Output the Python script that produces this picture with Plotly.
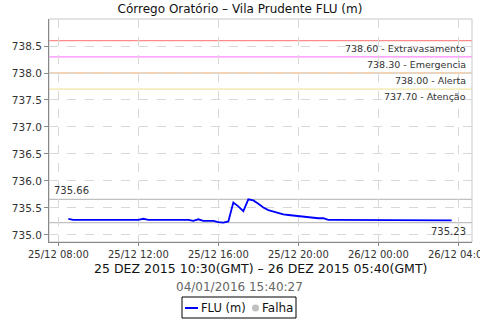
import plotly.graph_objects as go
import pandas as pd

# ---- data ----
times = list(pd.date_range("2015-12-25 08:30", "2015-12-26 03:30", freq="15min")) + [pd.Timestamp("2015-12-26 03:40")]
level = [
    735.30, 735.28,                          # 08:30 08:45
    735.28, 735.28, 735.28, 735.28,          # 09
    735.28, 735.28, 735.28, 735.28,          # 10
    735.28, 735.28, 735.28, 735.28,          # 11
    735.28, 735.30, 735.28, 735.28,          # 12
    735.28, 735.28, 735.28, 735.28,          # 13
    735.28, 735.28, 735.28, 735.26,          # 14
    735.29, 735.26, 735.26, 735.26,          # 15
    735.24, 735.23, 735.25, 735.60,          # 16
    735.53, 735.44, 735.66, 735.64,          # 17
    735.58, 735.51, 735.46, 735.43,          # 18
    735.40, 735.38, 735.37, 735.36,          # 19
    735.35, 735.33, 735.33, 735.31,          # 20
    735.31, 735.31, 735.28, 735.28,          # 21
    735.28, 735.28, 735.28, 735.28,          # 22
    735.28, 735.28, 735.28, 735.28,          # 23
    735.28, 735.28, 735.27, 735.28,          # 00
    735.27, 735.27, 735.27, 735.27,          # 01
    735.27, 735.27, 735.27, 735.27,          # 02
    735.27, 735.27, 735.27,                  # 03:00 03:15 03:30
    735.27,                                  # 03:40
]
thr_values = [738.60, 738.30, 738.00, 737.70]
thr_names = ["Extravasamento", "Emergencia", "Alerta", "Atenção"]
thr_colors = ["#ff8c8c", "#ff88ff", "#e8a868", "#f2e6a4"]
max_val = 735.66
min_val = 735.23
title = "Córrego Oratório – Vila Prudente FLU (m)"
subtitle = "25 DEZ 2015 10:30(GMT) – 26 DEZ 2015 05:40(GMT)"
stamp = "04/01/2016 15:40:27"
y_ticks = [735.0, 735.5, 736.0, 736.5, 737.0, 737.5, 738.0, 738.5]
series_name = "FLU (m)"
fail_name = "Falha"

FONT = "DejaVu Sans"
L, R, T, B, W, H = 49, 8, 19, 78, 480, 320
PW, PH = W - L - R, H - T - B


def px(x):
    return (x - L) / PW


def py(y):
    return (H - B - y) / PH


fig = go.Figure()
fig.add_trace(go.Scatter(x=times, y=level, mode="lines", name=series_name,
                         line=dict(color="#0000ff", width=1.8), showlegend=False))

for v, n, c in zip(thr_values, thr_names, thr_colors):
    fig.add_hline(y=v, line=dict(color=c, width=1.2), layer="below")
    fig.add_annotation(x=0.991, xref="paper", y=v, yref="y", xanchor="right", yanchor="top",
                       text=f"{v:.2f} - {n}", showarrow=False, yshift=0,
                       font=dict(family=FONT, size=9.5, color="#333"))

for v in [max_val, min_val]:
    fig.add_hline(y=v, line=dict(color="#c0c0c0", width=1.2), layer="below")
fig.add_annotation(x=0.007, xref="paper", y=max_val, yref="y", xanchor="left", yanchor="bottom",
                   text=f"{max_val:.2f}", showarrow=False, yshift=1,
                   font=dict(family=FONT, size=10, color="#333"))
fig.add_annotation(x=0.991, xref="paper", y=min_val, yref="y", xanchor="right", yanchor="top",
                   text=f"{min_val:.2f}", showarrow=False, yshift=-1,
                   font=dict(family=FONT, size=10, color="#333"))

fig.add_annotation(x=px(260), xref="paper", y=py(268), yref="paper", yanchor="middle",
                   text=subtitle, showarrow=False, font=dict(family=FONT, size=12.5, color="#111"))
fig.add_annotation(x=px(239), xref="paper", y=py(287), yref="paper", yanchor="middle",
                   text=stamp, showarrow=False, font=dict(family=FONT, size=12, color="#666"))

# plot frame
fig.add_shape(type="rect", xref="paper", yref="paper", x0=0, x1=1, y0=0, y1=1,
              line=dict(color="#c8c8c8", width=1), layer="below")

# legend box
fig.add_shape(type="rect", xref="paper", yref="paper", x0=px(182), x1=px(296), y0=py(318), y1=py(297),
              line=dict(color="#000", width=1), fillcolor="white")
fig.add_shape(type="line", xref="paper", yref="paper", x0=px(185), x1=px(198), y0=py(308), y1=py(308),
              line=dict(color="#0000ff", width=2))
fig.add_annotation(x=px(199), xref="paper", y=py(308), yref="paper", xanchor="left", yanchor="middle",
                   text=series_name, showarrow=False, font=dict(family=FONT, size=11.5, color="#111"))
fig.add_shape(type="circle", xref="paper", yref="paper", x0=px(252), x1=px(259), y0=py(311.5), y1=py(304.5),
              line=dict(color="#c0c0c0", width=0), fillcolor="#c0c0c0")
fig.add_annotation(x=px(260), xref="paper", y=py(308), yref="paper", xanchor="left", yanchor="middle",
                   text=fail_name, showarrow=False, font=dict(family=FONT, size=12, color="#111"))

fig.update_layout(
    width=W, height=H,
    margin=dict(l=L, r=R, t=T, b=B, autoexpand=False),
    paper_bgcolor="white", plot_bgcolor="white",
    font=dict(family=FONT, size=10, color="#333"),
    title=dict(text=title, x=0.5, xref="container", xanchor="center", y=0.972, yanchor="middle",
               font=dict(family=FONT, size=12, color="#111")),
    showlegend=False,
    xaxis=dict(range=["2015-12-25 07:32", "2015-12-26 04:41"], tick0="2015-12-25 08:00",
               dtick=4 * 3600 * 1000, tickformat="%d/%m %H:%M",
               showgrid=True, gridcolor="#d8d8d8", griddash="dash", gridwidth=1,
               showline=True, linecolor="#888", linewidth=1, ticks="outside", ticklen=3,
               tickcolor="#888", zeroline=False, tickfont=dict(size=10, color="#333"),
               ticklabeloverflow="allow"),
    yaxis=dict(range=[734.87, 739.0], tickvals=y_ticks, tickformat=".1f",
               showgrid=True, gridcolor="#d8d8d8", griddash="dash", gridwidth=1,
               showline=True, linecolor="#888", linewidth=1, ticks="outside", ticklen=4,
               tickcolor="#888", zeroline=False, tickfont=dict(size=10.5, color="#333")),
)
fig.write_html("out.html")
